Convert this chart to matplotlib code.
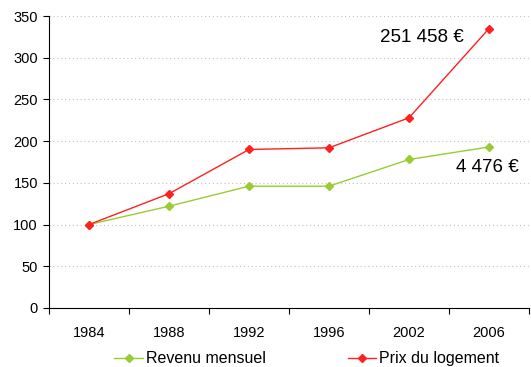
import matplotlib
matplotlib.use("Agg")
import matplotlib.pyplot as plt
from matplotlib.lines import Line2D
import numpy as np

years = ["1984", "1988", "1992", "1996", "2002", "2006"]
revenu = [100, 122, 146, 146, 178, 193]
prix = [100, 137, 190, 192, 228, 335]
label_prix = "251 458 €"
label_revenu = "4 476 €"

plt.rcParams["font.family"] = ["Liberation Sans", "DejaVu Sans"]

fig = plt.figure(figsize=(5.31, 3.67), dpi=100)
ax = fig.add_axes([0.0923, 0.1608, 0.904, 0.7956])

green = "#99CC33"
red = "#FF2020"
x = np.arange(len(years))

ax.plot(x, revenu, color=green, lw=1, marker="D", ms=4, label="Revenu mensuel")
ax.plot(x, prix, color=red, lw=1, marker="D", ms=4, label="Prix du logement")

ax.set_ylim(0, 350)
ax.set_yticks(np.arange(0, 351, 50))
ax.set_xlim(-0.5, len(years) - 0.5)
ax.set_xticks(x)
ax.set_xticklabels(years)
ax.set_xticks(np.arange(-0.5, len(years), 1), minor=True)
ax.tick_params(axis="x", which="major", length=0, pad=13, labelsize=10.5)
ax.tick_params(axis="x", which="minor", length=4, width=0.8, direction="out")
ax.tick_params(axis="y", length=4, width=0.8, labelsize=10.5, pad=4)

for s in ("top", "right"):
    ax.spines[s].set_visible(False)
for s in ("left", "bottom"):
    ax.spines[s].set_linewidth(0.8)

ax.yaxis.grid(True, linestyle=(0, (1, 2.5)), color="#c0c0c0", lw=0.8)
ax.set_axisbelow(True)

ax.text(4.16, 324, label_prix, fontsize=13.5, ha="center", va="center")
ax.text(4.98, 168, label_revenu, fontsize=13.5, ha="center", va="center")

handles = [
    Line2D([], [], color=green, lw=1, marker="D", ms=4),
    Line2D([], [], color=red, lw=1, marker="D", ms=4),
]
fig.legend(handles, ["Revenu mensuel", "Prix du logement"], loc="center",
           bbox_to_anchor=(0.578, 0.022), ncol=2, frameon=False, fontsize=11.5,
           handlelength=1.8, handletextpad=0.2, columnspacing=5.1)

fig.savefig("out.png", dpi=100)
